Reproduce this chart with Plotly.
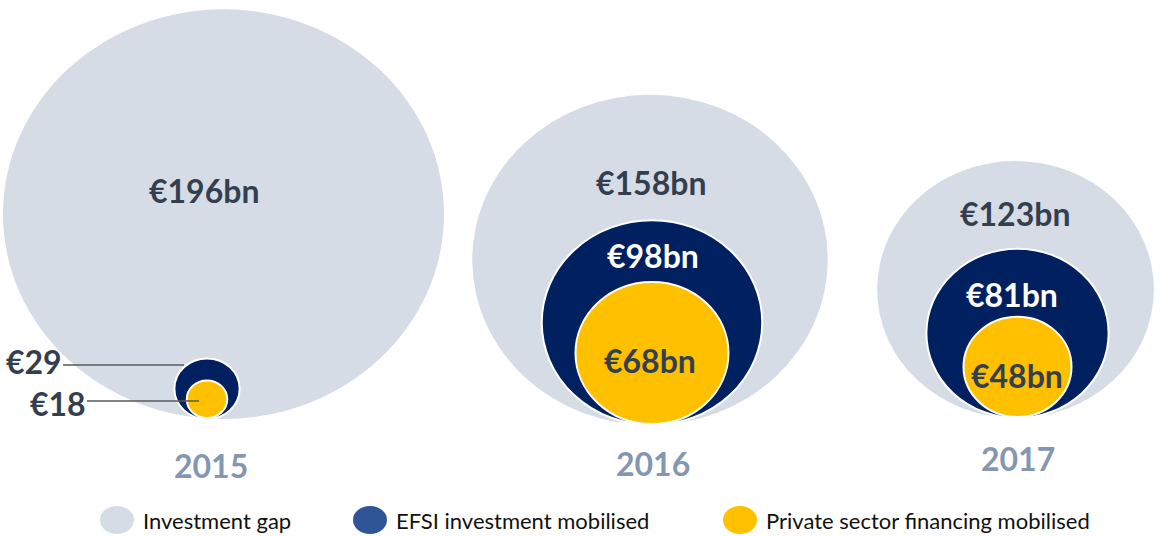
import plotly.graph_objects as go

# ---- data ----
years = ["2015", "2016", "2017"]
investment_gap = [196, 158, 123]
efsi_mobilised = [29, 98, 81]
private_mobilised = [18, 68, 48]
series_names = ["Investment gap", "EFSI investment mobilised", "Private sector financing mobilised"]

# ---- layout constants (pixel-based axes) ----
W, H = 1160, 536
KX, KY = 1.125, 1.045                # px per €bn (radius)
outer_cx = [223.5, 650, 1015.5]
inner_cx = [207, 652, 1017.5]
base_y = [419, 425, 418]

GAP_COL = "#D6DCE5"
EFSI_COL = "#002060"
PRIV_COL = "#FFC000"
EFSI_LEG = "#2F5597"
DARK = "#333F50"
YEAR_COL = "#8497B0"
FONT = "Lato"
VSIZE = 32

fig = go.Figure()
# invisible trace to anchor axes
fig.add_trace(go.Scatter(x=[0, W], y=[0, H], mode="markers",
                         marker=dict(opacity=0), hoverinfo="skip", showlegend=False))

shapes = []
annotations = []


def ellipse(cx, base, v, fill, line_w=0):
    return dict(type="circle", xref="x", yref="y",
                x0=cx - v * KX, x1=cx + v * KX,
                y0=base - 2 * v * KY, y1=base,
                fillcolor=fill,
                line=dict(color="white", width=line_w) if line_w else dict(width=0),
                layer="above")


for i in range(3):
    shapes.append(ellipse(outer_cx[i], base_y[i], investment_gap[i], GAP_COL))
    shapes.append(ellipse(inner_cx[i], base_y[i], efsi_mobilised[i], EFSI_COL, 2))
    shapes.append(ellipse(inner_cx[i], base_y[i] - 1, private_mobilised[i], PRIV_COL, 2))

# value labels
label_pos_gap = [(204, 190), (651, 182), (1015, 213)]
label_pos_efsi = [None, (653, 255), (1012, 294)]
label_pos_priv = [None, (650, 360), (1017, 375)]

for i in range(3):
    x, y = label_pos_gap[i]
    annotations.append(dict(x=x, y=y, xref="x", yref="y", text=f"€{investment_gap[i]}bn",
                            showarrow=False, font=dict(family=FONT, size=VSIZE, color=DARK, weight="bold")))
    if label_pos_efsi[i]:
        x, y = label_pos_efsi[i]
        annotations.append(dict(x=x, y=y, xref="x", yref="y", text=f"€{efsi_mobilised[i]}bn",
                                showarrow=False, font=dict(family=FONT, size=VSIZE, color="white", weight="bold")))
    if label_pos_priv[i]:
        x, y = label_pos_priv[i]
        annotations.append(dict(x=x, y=y, xref="x", yref="y", text=f"€{private_mobilised[i]}bn",
                                showarrow=False, font=dict(family=FONT, size=VSIZE, color=DARK, weight="bold")))

# 2015 small values with leader lines
annotations.append(dict(x=64, y=361, xref="x", yref="y", text=f"€{efsi_mobilised[0]}",
                        xanchor="right", showarrow=False,
                        font=dict(family=FONT, size=VSIZE, color=DARK, weight="bold")))
annotations.append(dict(x=88, y=403, xref="x", yref="y", text=f"€{private_mobilised[0]}",
                        xanchor="right", showarrow=False,
                        font=dict(family=FONT, size=VSIZE, color=DARK, weight="bold")))
shapes.append(dict(type="line", xref="x", yref="y", x0=63, x1=184, y0=365, y1=365,
                   line=dict(color="#595959", width=1.3), layer="above"))
shapes.append(dict(type="line", xref="x", yref="y", x0=87, x1=199, y0=401, y1=401,
                   line=dict(color="#595959", width=1.3), layer="above"))

# year labels
year_pos = [(211, 465), (653, 463), (1018, 458)]
for i, yr in enumerate(years):
    x, y = year_pos[i]
    annotations.append(dict(x=x, y=y, xref="x", yref="y", text=yr, showarrow=False,
                            font=dict(family=FONT, size=VSIZE, color=YEAR_COL, weight="bold")))

# manual legend
leg_marker_x = [117, 370, 740]
leg_cols = [GAP_COL, EFSI_LEG, PRIV_COL]
for i, name in enumerate(series_names):
    cx = leg_marker_x[i]
    shapes.append(dict(type="circle", xref="x", yref="y", x0=cx - 17, x1=cx + 17,
                       y0=506, y1=534, fillcolor=leg_cols[i], line=dict(width=0), layer="above"))
    annotations.append(dict(x=cx + 24, y=520, xref="x", yref="y", text=name, xanchor="left",
                            showarrow=False, font=dict(family=FONT, size=22, color="#111111")))

fig.update_layout(
    width=W, height=H, margin=dict(l=0, r=0, t=0, b=0, pad=0),
    paper_bgcolor="white", plot_bgcolor="white",
    xaxis=dict(range=[0, W], visible=False, fixedrange=True),
    yaxis=dict(range=[H, 0], visible=False, fixedrange=True),
    shapes=shapes, annotations=annotations, showlegend=False,
)

fig.write_html("out.html", config={"displayModeBar": False},
               post_script="document.body.style.margin='0';document.body.style.overflow='hidden';")
